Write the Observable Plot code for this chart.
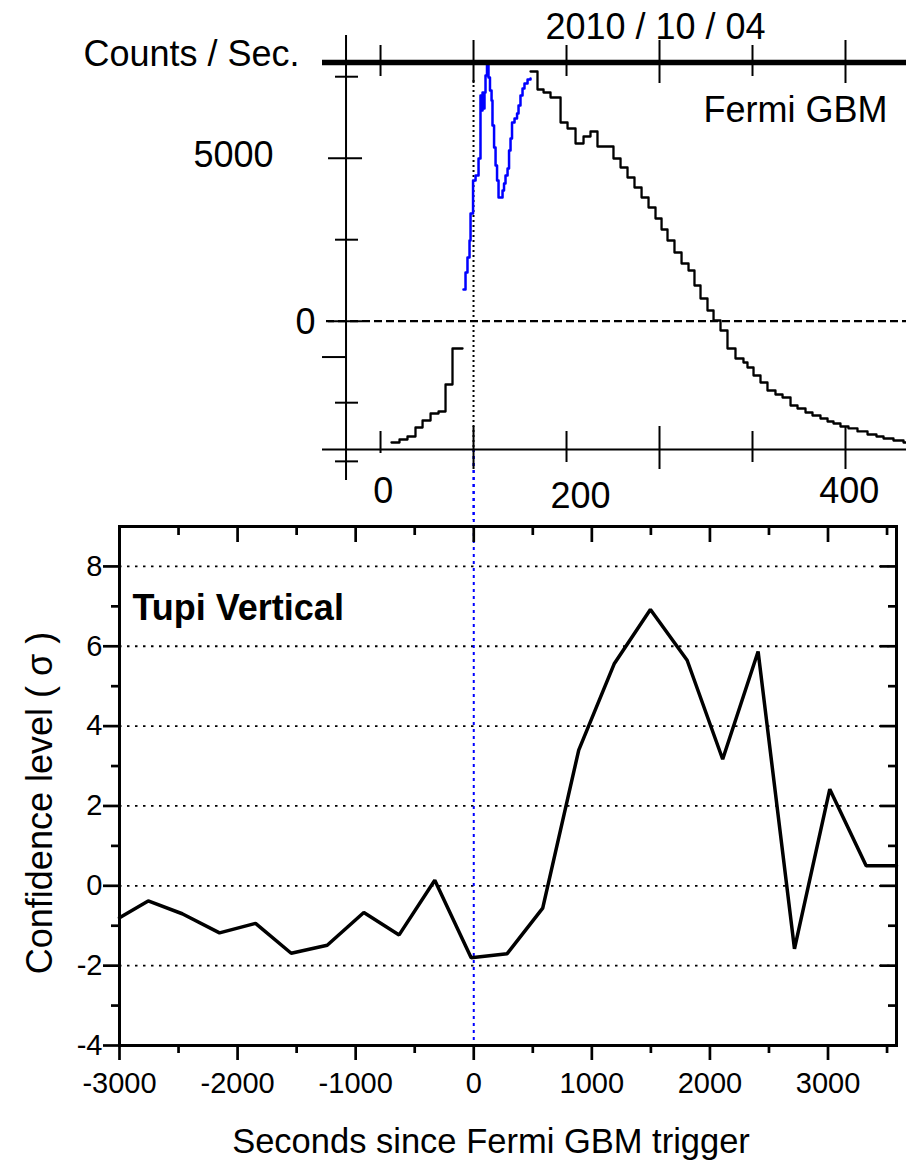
<!DOCTYPE html>
<html><head><meta charset="utf-8">
<script src="https://cdn.jsdelivr.net/npm/d3@7"></script>
<script src="https://cdn.jsdelivr.net/npm/@observablehq/plot@0.6"></script>
<style>
html,body{margin:0;padding:0;background:#fff;}
#chart{position:relative;width:906px;height:1163px;overflow:hidden;background:#fff;}
#chart svg{position:absolute;left:0;top:0;}
</style></head><body><div id="chart"></div>
<script>
// ---------- Bottom panel: Tupi Vertical confidence level ----------
const tupiTime  = [-3000, -2757, -2469, -2153, -1848, -1546, -1241, -931, -632, -330, -22, 283, 584, 889, 1191, 1496, 1807, 2108, 2408, 2716, 3015, 3323, 3580];
const tupiSigma = [-0.80, -0.38, -0.70, -1.18, -0.94, -1.69, -1.49, -0.67, -1.23, 0.14, -1.80, -1.70, -0.56, 3.40, 5.57, 6.92, 5.65, 3.17, 5.87, -1.58, 2.42, 0.50, 0.50];
const xMajorTicks = [-3000, -2000, -1000, 0, 1000, 2000, 3000];
const xMinorTicks = [-2500, -1500, -500, 500, 1500, 2500, 3500];
const yMajorTicks = [-4, -2, 0, 2, 4, 6, 8];
const yMinorTicks = [-3, -1, 1, 3, 5, 7];
const yGrid = [-2, 0, 2, 4, 6, 8];
const triggerTime = 0;
const xTitle = "Seconds since Fermi GBM trigger";
const yTitle = "Confidence level ( σ )";
const panelLabel = "Tupi Vertical";

// ---------- Top panel: Fermi GBM counts (inset) ----------
const gbmBlueT = [89.2, 91.4, 93.5, 95.7, 96.8, 99.5, 102.2, 105.4, 107.5, 108.6, 109.7, 110.8, 111.8, 112.9, 114.5, 116.1, 117.7, 119.4, 120.4, 122.1, 123.7, 125.3, 126.9, 131.2, 132.8, 134.4, 136.6, 138.2, 139.8, 141.4, 144.1, 146.8, 148.4, 150.5, 152.7, 154.8, 158.1, 161.3];
const gbmBlueC = [972, 1494, 1954, 2475, 3304, 4317, 4470, 4991, 6924, 6463, 7016, 6525, 7016, 7537, 7905, 7476, 7077, 6770, 6003, 5328, 4776, 4317, 3794, 4009, 4224, 4470, 4684, 5236, 5604, 6095, 6218, 6371, 6617, 6924, 7138, 7292, 7414, 7445];
const gbmBlackT = [161.3, 168.8, 175.3, 182.8, 193.6, 201.1, 209.7, 218.3, 225.8, 233.3, 250.5, 258.1, 265.6, 273.1, 280.7, 288.2, 295.7, 302.2, 308.6, 316.1, 323.7, 331.2, 337.6, 344.1, 351.6, 358.1, 365.6, 373.1, 381.7, 390.3, 394.6, 401.1, 408.6, 416.1, 424.7, 432.3, 440.9, 448.4, 457.0, 464.5, 473.1, 480.7, 487.1, 494.6, 503.2, 512.9, 523.7, 533.3, 540.9, 551.6, 562.4, 565.6];
const gbmBlackC = [7660, 7107, 7015, 6862, 6095, 5911, 5451, 5666, 5819, 5359, 4991, 4715, 4408, 4101, 3794, 3488, 3150, 2813, 2475, 2107, 1770, 1555, 1095, 696, 328, 21, -285, -837, -1144, -1267, -1420, -1666, -1880, -2126, -2248, -2341, -2586, -2678, -2801, -2893, -2985, -3077, -3138, -3230, -3291, -3383, -3476, -3537, -3598, -3660, -3721, -3721];
const gbmPreT = [11.8, 20.4, 29.0, 37.6, 45.2, 53.8, 62.4, 69.9, 77.4, 88.2];
const gbmPreC = [-3721, -3629, -3537, -3261, -3046, -2832, -2770, -1942, -837, -837];
const topXDomain = [-62.4, 565.6];
const topYDomain = [-3936, 7936];
const topAxisT = -37.1;
const topTrigger = 100;
const topXMajor = [100, 300, 500];
const topXMinor = [200, 400];
const topXZeroTick = [0];
const topXTopMinor = [0, 200, 400];
const topYMajor = [5000, 0];
const topYMinor = [7500, 2500, -2500, -4300];
const topYHalf = [-1100];
const topXLabels = [{pos: 3, label: "0"}, {pos: 504, label: "400"}];
const topXLabelsLow = [{pos: 215, label: "200"}];
const topYLabel5000 = [{value: 5000, label: "5000"}];
const topYLabel0 = [{value: 0, label: "0"}];
const dateText = "2010 / 10 / 04";
const unitText = "Counts / Sec.";
const gbmText = "Fermi GBM";

const tupi = tupiTime.map((t, i) => ({t, sigma: tupiSigma[i]}));
const blue = gbmBlueT.map((t, i) => ({t, c: gbmBlueC[i]}));
const black = gbmBlackT.map((t, i) => ({t, c: gbmBlackC[i]}));
const pre = gbmPreT.map((t, i) => ({t, c: gbmPreC[i]}));

const font = "'Liberation Sans', Arial, Helvetica, sans-serif";
const baseStyle = {fontFamily: font, background: "transparent", overflow: "visible", color: "black"};

const bottomPlot = Plot.plot({
  width: 906, height: 1163,
  marginLeft: 119, marginRight: 10, marginTop: 526, marginBottom: 118,
  style: {...baseStyle, fontSize: "29px"},
  x: {domain: [-3000, 3580]},
  y: {domain: [-4, 9]},
  marks: [
    Plot.ruleY(yGrid, {stroke: "black", strokeWidth: 1.8, strokeDasharray: "2.5,5.5"}),
    Plot.ruleX([triggerTime], {y1: 9, y2: -4, insetTop: -77, stroke: "#0000ff", strokeWidth: 2, strokeDasharray: "3,4"}),
    Plot.line(tupi, {x: "t", y: "sigma", stroke: "black", strokeWidth: 3.5, strokeLinejoin: "miter"}),
    Plot.frame({stroke: "black", strokeWidth: 3}),
    Plot.ruleY(yMajorTicks, {x1: -3000, x2: -3000, insetLeft: -16, insetRight: 0, stroke: "black", strokeWidth: 2.7}),
    Plot.ruleY(yMinorTicks, {x1: -3000, x2: -3000, insetLeft: -8, insetRight: 0, stroke: "black", strokeWidth: 2.7}),
    Plot.ruleY(yMajorTicks, {x1: 3580, x2: 3580, insetLeft: -16, insetRight: 0, stroke: "black", strokeWidth: 2.7}),
    Plot.ruleY(yMinorTicks, {x1: 3580, x2: 3580, insetLeft: -8, insetRight: 0, stroke: "black", strokeWidth: 2.7}),
    Plot.ruleX(xMajorTicks, {y1: -4, y2: -4, insetTop: 0, insetBottom: -15, stroke: "black", strokeWidth: 2.7}),
    Plot.ruleX(xMinorTicks, {y1: -4, y2: -4, insetTop: 0, insetBottom: -8, stroke: "black", strokeWidth: 2.7}),
    Plot.ruleX(xMajorTicks, {y1: 9, y2: 9, insetTop: 0, insetBottom: -16, stroke: "black", strokeWidth: 2.7}),
    Plot.ruleX(xMinorTicks, {y1: 9, y2: 9, insetTop: 0, insetBottom: -9, stroke: "black", strokeWidth: 2.7}),
    Plot.axisX(xMajorTicks, {tickSize: 0, tickPadding: 27, fontSize: 29, tickFormat: d => String(d), label: null}),
    Plot.axisY(yMajorTicks, {tickSize: 0, tickPadding: 17, fontSize: 29, tickFormat: d => String(d), label: null}),
    Plot.text([xTitle], {frameAnchor: "bottom", dx: -17, dy: 107, lineAnchor: "bottom", fontSize: 34.5, fill: "black"}),
    Plot.text([yTitle], {frameAnchor: "left", rotate: -90, textAnchor: "middle", dx: -79, dy: 17, fontSize: 36, fill: "black"}),
    Plot.text([panelLabel], {frameAnchor: "top-left", dx: 13, dy: 93, lineAnchor: "bottom", textAnchor: "start", fontSize: 36, fontWeight: "bold", fill: "black"})
  ]
});

const topPlot = Plot.plot({
  width: 906, height: 520,
  marginLeft: 322, marginRight: 0, marginTop: 62, marginBottom: 71,
  style: {...baseStyle, fontSize: "36px"},
  x: {domain: topXDomain, axis: null},
  y: {domain: topYDomain, axis: null},
  marks: [
    Plot.ruleY([0], {insetLeft: 4, stroke: "black", strokeWidth: 2.2, strokeDasharray: "8,4"}),
    Plot.ruleX([topTrigger], {y1: topYDomain[1], y2: topYDomain[0], insetTop: 18, stroke: "black", strokeWidth: 2, strokeDasharray: "2,3"}),
    Plot.ruleX([topTrigger], {y1: topYDomain[0], y2: topYDomain[0], insetTop: 0, insetBottom: -71, stroke: "#0000ff", strokeWidth: 2, strokeDasharray: "3,4"}),
    Plot.line(pre, {x: "t", y: "c", curve: "step-after", stroke: "black", strokeWidth: 2.3}),
    Plot.line(black, {x: "t", y: "c", curve: "step-after", stroke: "black", strokeWidth: 2.3}),
    Plot.line(blue, {x: "t", y: "c", curve: "step-after", stroke: "#0000ff", strokeWidth: 2.5}),
    Plot.ruleY([topYDomain[1]], {stroke: "black", strokeWidth: 5.5}),
    Plot.ruleY([topYDomain[0]], {stroke: "black", strokeWidth: 2}),
    Plot.ruleX([topAxisT], {y1: topYDomain[1], y2: topYDomain[0], insetTop: -27, insetBottom: -31, stroke: "black", strokeWidth: 2}),
    Plot.ruleX(topXMajor, {y1: topYDomain[1], y2: topYDomain[1], insetTop: -22, insetBottom: -21, stroke: "black", strokeWidth: 2}),
    Plot.ruleX(topXTopMinor, {y1: topYDomain[1], y2: topYDomain[1], insetTop: -17, insetBottom: -14, stroke: "black", strokeWidth: 2}),
    Plot.ruleX(topXMajor, {y1: topYDomain[0], y2: topYDomain[0], insetTop: -23, insetBottom: -20, stroke: "black", strokeWidth: 2}),
    Plot.ruleX(topXMinor, {y1: topYDomain[0], y2: topYDomain[0], insetTop: -18, insetBottom: -13, stroke: "black", strokeWidth: 2}),
    Plot.ruleX(topXZeroTick, {y1: topYDomain[0], y2: topYDomain[0], insetTop: -18, insetBottom: -4, stroke: "black", strokeWidth: 2}),
    Plot.ruleY(topYMajor, {x1: topAxisT, x2: topAxisT, insetLeft: -17.5, insetRight: -16.5, stroke: "black", strokeWidth: 2}),
    Plot.ruleY(topYMinor, {x1: topAxisT, x2: topAxisT, insetLeft: -10.5, insetRight: -12.5, stroke: "black", strokeWidth: 2}),
    Plot.ruleY(topYHalf, {x1: topAxisT, x2: topAxisT, insetLeft: -23.5, insetRight: 0, stroke: "black", strokeWidth: 2}),
    Plot.text(topYLabel5000, {y: "value", text: "label", frameAnchor: "left", textAnchor: "end", dx: -49, dy: -3, fontSize: 36, fill: "black"}),
    Plot.text(topYLabel0, {y: "value", text: "label", frameAnchor: "left", textAnchor: "end", dx: -7, dy: 1, fontSize: 36, fill: "black"}),
    Plot.text(topXLabels, {x: "pos", text: "label", frameAnchor: "bottom", lineAnchor: "bottom", dy: 53, fontSize: 36, fill: "black"}),
    Plot.text(topXLabelsLow, {x: "pos", text: "label", frameAnchor: "bottom", lineAnchor: "bottom", dy: 58, fontSize: 36, fill: "black"}),
    Plot.text([unitText], {frameAnchor: "top-left", textAnchor: "end", lineAnchor: "bottom", dx: -23, dy: 3, fontSize: 36, fill: "black"}),
    Plot.text([dateText], {frameAnchor: "top-left", textAnchor: "middle", lineAnchor: "bottom", dx: 333, dy: -24, fontSize: 36, fill: "black"}),
    Plot.text([gbmText], {frameAnchor: "top-right", textAnchor: "end", lineAnchor: "bottom", dx: -19, dy: 59, fontSize: 36, fill: "black"})
  ]
});

const chart = document.getElementById("chart");
chart.appendChild(bottomPlot);
chart.appendChild(topPlot);
</script></body></html>
